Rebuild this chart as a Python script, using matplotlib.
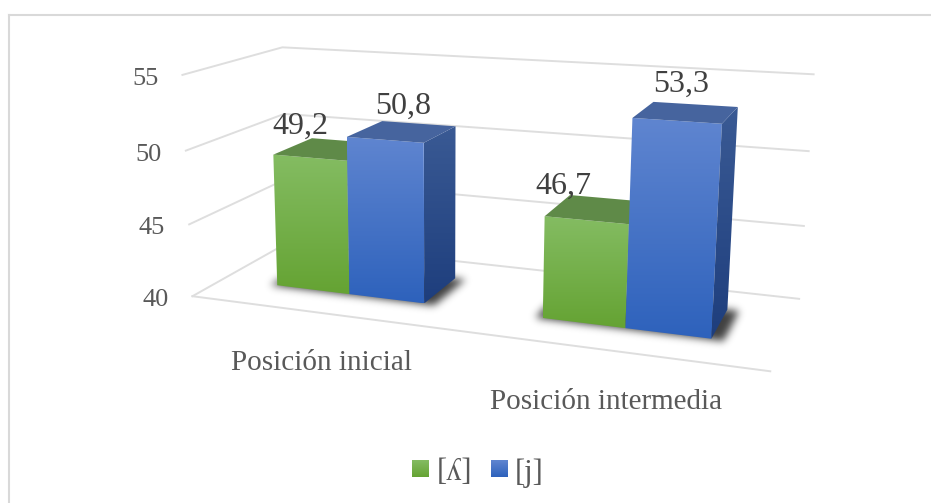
import numpy as np
import matplotlib
matplotlib.use("Agg")
import matplotlib.pyplot as plt
from matplotlib.path import Path
from matplotlib.patches import Polygon
from matplotlib.colors import to_rgb

categories = ["Posición inicial", "Posición intermedia"]
series_names = ["[ʎ]", "[j]"]
values_l = [49.2, 46.7]
values_j = [50.8, 53.3]
labels_l = ["49,2", "46,7"]
labels_j = ["50,8", "53,3"]
yticks = [40, 45, 50, 55]

plt.rcParams['font.family'] = ['Liberation Serif', 'DejaVu Serif']

# box corners (x across, y depth, z value) -> where they sit in the picture
world = np.array([[0, 0, 40], [1, 0, 40], [0, 1, 40], [1, 1, 40],
                  [0, 0, 55], [0, 1, 55], [1, 1, 55]], float)
image = np.array([[195, 296], [770, 372], [285, 243], [800, 298],
                  [180, 74.5], [285, 47.5], [813, 74.5]], float)

rows, rhs = [], []
for (x, y, z), (u, v) in zip(world, image):
    rows.append([x, y, z, 1, 0, 0, 0, 0, -u * x, -u * y, -u * z])
    rhs.append(u)
    rows.append([0, 0, 0, 0, x, y, z, 1, -v * x, -v * y, -v * z])
    rhs.append(v)
cam = np.linalg.lstsq(np.array(rows), np.array(rhs), rcond=None)[0]
cam = np.append(cam, 1).reshape(3, 4)


def project(x, y, z):
    p = cam @ np.array([x, y, z, 1.0])
    return p[0] / p[2], p[1] / p[2]


fig = plt.figure(figsize=(9.31, 5.03), dpi=100)
ax = fig.add_axes([0, 0, 1, 1])
W, H = 931, 503


def gradient_face(pts, c_top, c_bot, zorder):
    pts = np.array(pts)
    x0, x1 = pts[:, 0].min(), pts[:, 0].max()
    y0, y1 = pts[:, 1].min(), pts[:, 1].max()
    t = np.linspace(0, 1, 64)[:, None, None]
    grad = (1 - t) * np.array(to_rgb(c_top))[None, None, :] + t * np.array(to_rgb(c_bot))[None, None, :]
    im = ax.imshow(grad, extent=[x0, x1, y1, y0], aspect='auto', zorder=zorder, interpolation='bilinear')
    im.set_clip_path(Polygon(pts, closed=True, transform=ax.transData))


def shadow(x0, x1, y0, y1):
    corners = [project(x0, y0, 40), project(x1, y0, 40), project(x1, y1, 40), project(x0, y1, 40)]
    xx, yy = np.meshgrid(np.arange(W), np.arange(H))
    mask = Path(corners).contains_points(np.c_[xx.ravel() + .5, yy.ravel() + .5]).reshape(H, W).astype(float)
    kernel = np.exp(-0.5 * (np.arange(-12, 13) / 4.0) ** 2)
    kernel /= kernel.sum()
    mask = np.apply_along_axis(lambda r: np.convolve(r, kernel, mode='same'), 0, mask)
    mask = np.apply_along_axis(lambda r: np.convolve(r, kernel, mode='same'), 1, mask)
    rgba = np.zeros((H, W, 4))
    rgba[..., 3] = mask * 0.75
    ax.imshow(rgba, extent=[0, W, H, 0], aspect='auto', zorder=2)


def bar3(x0, x1, value, front_top, front_bot, top_col, side_top, side_bot, zorder):
    yf, yb = 0.30, 0.72
    p = project
    gradient_face([p(x0, yf, value), p(x1, yf, value), p(x1, yf, 40), p(x0, yf, 40)], front_top, front_bot, zorder)
    gradient_face([p(x1, yf, value), p(x1, yb, value), p(x1, yb, 40), p(x1, yf, 40)], side_top, side_bot, zorder)
    ax.add_patch(Polygon([p(x0, yf, value), p(x1, yf, value), p(x1, yb, value), p(x0, yb, value)],
                         closed=True, fc=top_col, ec='none', zorder=zorder))


# walls and floor
grid_col = '#DEDEDE'
for z in yticks:
    xs, ys = zip(project(0, 0, z), project(0, 1, z), project(1, 1, z))
    ax.plot(xs, ys, color=grid_col, lw=1.4, zorder=1, solid_joinstyle='miter')
xs, ys = zip(project(0, 0, 40), project(1, 0, 40))
ax.plot(xs, ys, color=grid_col, lw=1.4, zorder=1)

# bars, x edges in floor units
green = ('#84BC62', '#65A333', '#5F8A48', '#5F8A48', '#5F8A48')
blue = ('#5F85D0', '#2E62BC', '#46649E', '#3A5A94', '#1E3E7D')
edges = [(0.111, 0.255, 0.398), (0.612, 0.753, 0.893)]
for i in range(len(categories)):
    a, b, c = edges[i]
    shadow(a - 0.012, c + 0.02, 0.30 - 0.012, 0.72)
    bar3(a, b, values_l[i], green[0], green[1], green[2], green[3], green[4], 3 + i * 2)
    bar3(b, c, values_j[i], blue[0], blue[1], blue[2], blue[3], blue[4], 4 + i * 2)

# data labels
txt = '#404040'
offs_l = [(-29, -22), (-35, -22)]
offs_j = [(0, -25), (-6, -28)]
for i in range(len(categories)):
    a, b, c = edges[i]
    px, py = project((a + b) / 2, 0.52, values_l[i])
    ax.text(px + offs_l[i][0], py + offs_l[i][1], labels_l[i], fontsize=23, color=txt,
            ha='center', va='center', zorder=10)
    px, py = project((b + c) / 2, 0.52, values_j[i])
    ax.text(px + offs_j[i][0], py + offs_j[i][1], labels_j[i], fontsize=23, color=txt,
            ha='center', va='center', zorder=10)

# axis labels
for z in yticks:
    px, py = project(0, 0, z)
    ax.text(px - 24, py + 4, str(z), fontsize=19, color='#595959', ha='right', va='center')
ax.text(321.5, 363, categories[0], fontsize=21, color='#595959', ha='center', va='center')
ax.text(606.5, 402, categories[1], fontsize=21, color='#595959', ha='center', va='center')

# legend
gradient_face([(412, 460), (429, 460), (429, 477), (412, 477)], green[0], green[1], 3)
gradient_face([(491, 460), (508, 460), (508, 477), (491, 477)], blue[0], blue[1], 3)
ax.text(437, 473, series_names[0], fontsize=22, color='#595959', ha='left', va='center')
ax.text(515, 473, series_names[1], fontsize=22, color='#595959', ha='left', va='center')

# chart frame
ax.plot([9, 9], [H, 15], color='#D9D9D9', lw=1.5, zorder=1)
ax.plot([9, W], [15, 15], color='#D9D9D9', lw=1.5, zorder=1)

ax.set_xlim(0, W)
ax.set_ylim(H, 0)
ax.axis('off')
fig.savefig('out.png', dpi=100, facecolor='white')
